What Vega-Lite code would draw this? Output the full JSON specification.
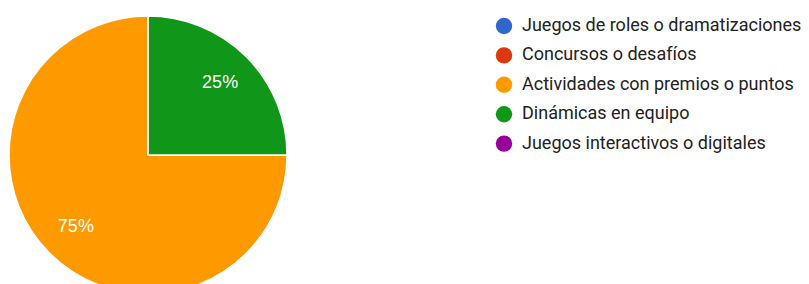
{
  "$schema": "https://vega.github.io/schema/vega-lite/v6.json",
  "width": 296,
  "height": 310,
  "padding": 0,
  "autosize": {"type": "pad"},
  "background": "white",
  "config": {"view": {"stroke": null}, "font": "Roboto"},
  "data": {"values": [
    {"idx": 0, "category": "Juegos de roles o dramatizaciones", "count": 0, "label": ""},
    {"idx": 1, "category": "Concursos o desafíos", "count": 0, "label": ""},
    {"idx": 2, "category": "Actividades con premios o puntos", "count": 3, "label": "75%"},
    {"idx": 3, "category": "Dinámicas en equipo", "count": 1, "label": "25%"},
    {"idx": 4, "category": "Juegos interactivos o digitales", "count": 0, "label": ""}
  ]},
  "encoding": {
    "theta": {"field": "count", "type": "quantitative", "stack": true},
    "order": {"field": "idx", "type": "quantitative", "sort": "descending"},
    "color": {
      "field": "category", "type": "nominal",
      "scale": {
        "domain": ["Juegos de roles o dramatizaciones", "Concursos o desafíos", "Actividades con premios o puntos", "Dinámicas en equipo", "Juegos interactivos o digitales"],
        "range": ["#3366cc", "#dc3912", "#ff9900", "#109618", "#990099"]
      },
      "legend": {
        "title": null,
        "orient": "none",
        "legendX": 495,
        "legendY": 17,
        "symbolType": "circle",
        "symbolSize": 270,
        "symbolStrokeWidth": 0,
        "symbolOpacity": 1,
        "labelFontSize": 18,
        "labelFont": "Roboto",
        "labelColor": "#222222",
        "labelOffset": 9,
        "rowPadding": 11.4,
        "labelLimit": 400
      }
    }
  },
  "layer": [
    {"mark": {"type": "arc", "outerRadius": 139, "stroke": "white", "strokeWidth": 1.5}},
    {"mark": {"type": "text", "radius": 102, "fontSize": 18, "font": "Arial"},
     "encoding": {"text": {"field": "label"}, "color": {"value": "white"}}}
  ]
}
